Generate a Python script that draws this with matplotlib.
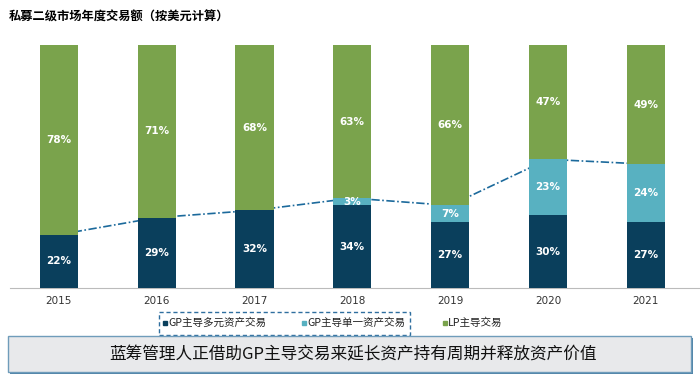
import numpy as np
import matplotlib.pyplot as plt
from matplotlib.patches import Rectangle

plt.rcParams['font.family'] = ['Noto Sans CJK SC', 'DejaVu Sans']

# data (% share of secondary volume)
years = ['2015', '2016', '2017', '2018', '2019', '2020', '2021']
gp_multi = [22, 29, 32, 34, 27, 30, 27]
gp_single = [0, 0, 0, 3, 7, 23, 24]
lp_led = [78, 71, 68, 63, 66, 47, 49]

c_dark = '#0A3F5C'
c_light = '#58B1C1'
c_green = '#7AA34C'
c_line = '#1C6A9C'

fig = plt.figure(figsize=(7, 3.79), dpi=100)
ax = fig.add_axes([0.0143, 0.240, 0.9857, 0.641])

x = np.arange(len(years))
w = 0.39
gp_multi = np.array(gp_multi)
gp_single = np.array(gp_single)
lp_led = np.array(lp_led)
ax.bar(x, gp_multi, w, color=c_dark, zorder=3)
ax.bar(x, gp_single, w, bottom=gp_multi, color=c_light, zorder=3)
ax.bar(x, lp_led, w, bottom=gp_multi + gp_single, color=c_green, zorder=3)

# GP-led total line, visible only between bars
ax.plot(x, gp_multi + gp_single, color=c_line, lw=1.2, ls=(0, (5, 1.5, 1, 1.5)), zorder=2)

for i in range(len(years)):
    ax.text(x[i], gp_multi[i] / 2, f'{gp_multi[i]}%', ha='center', va='center',
            color='white', fontsize=7.5, fontweight='bold', family='DejaVu Sans', zorder=4)
    if gp_single[i] > 0:
        ax.text(x[i], gp_multi[i] + gp_single[i] / 2, f'{gp_single[i]}%', ha='center', va='center',
                color='white', fontsize=7.5, fontweight='bold', family='DejaVu Sans', zorder=4)
    ax.text(x[i], 100 - lp_led[i] / 2, f'{lp_led[i]}%', ha='center', va='center',
            color='white', fontsize=7.5, fontweight='bold', family='DejaVu Sans', zorder=4)

ax.set_xlim(-0.5, 6.555)
ax.set_ylim(0, 100)
ax.set_xticks(x)
ax.set_xticklabels(years, fontsize=7.5, color='#333333', family='DejaVu Sans')
ax.tick_params(axis='x', length=0, pad=6)
ax.set_yticks([])
for s in ['top', 'right', 'left']:
    ax.spines[s].set_visible(False)
ax.spines['bottom'].set_color('#BBBBBB')
ax.spines['bottom'].set_linewidth(0.8)

fig.text(0.012, 0.955, '私募二级市场年度交易额（按美元计算）', fontsize=8.8,
         fontweight='bold', ha='left', va='center')

# legend
leg_items = [('GP主导多元资产交易', c_dark, 163), ('GP主导单一资产交易', c_light, 302),
             ('LP主导交易', c_green, 443)]
for label, col, px in leg_items:
    fig.patches.append(Rectangle((px / 700, 1 - 325 / 379), 4 / 700, 4 / 379,
                                 transform=fig.transFigure, color=col))
    fig.text((px + 5) / 700, 1 - 323 / 379, label, fontsize=7.6, ha='left', va='center',
             color='#222222')
fig.patches.append(Rectangle((159 / 700, 1 - 335 / 379), 251 / 700, 23 / 379,
                             transform=fig.transFigure, fill=False, ec='#2F6F9F',
                             lw=1.0, ls=(0, (3, 2))))

# bottom takeaway box
fig.patches.append(Rectangle((10 / 700, 1 - 374 / 379), 683 / 700, 36 / 379,
                             transform=fig.transFigure, fc='#4F84A8', ec='none'))
fig.patches.append(Rectangle((8 / 700, 1 - 372 / 379), 683 / 700, 36 / 379,
                             transform=fig.transFigure, fc='#E8E9EB', ec='#6F9CBA', lw=1.0))
fig.text(353 / 700, 1 - 355 / 379, '蓝筹管理人正借助GP主导交易来延长资产持有周期并释放资产价值',
         fontsize=12, ha='center', va='center', color='#111111')

fig.savefig('out.png', dpi=100)
